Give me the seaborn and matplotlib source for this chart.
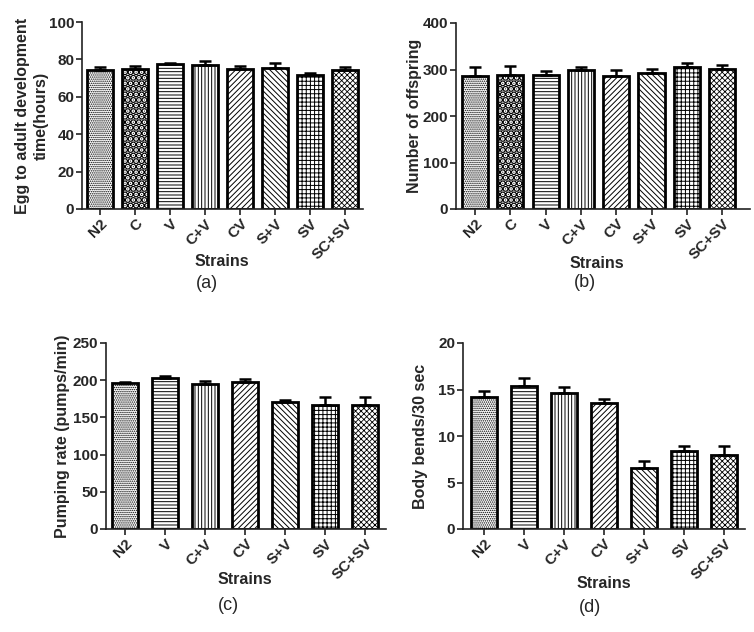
import matplotlib
matplotlib.use("Agg")
import matplotlib.pyplot as plt
import seaborn as sns
import numpy as np

# panel (a) / (b): eight strains
strains_ab = ["N2", "C", "V", "C+V", "CV", "S+V", "SV", "SC+SV"]
dev_time = [74.2, 74.7, 77.4, 77.2, 74.7, 75.4, 71.5, 74.2]
dev_time_err = [1.8, 1.8, 0.9, 2.2, 1.8, 2.7, 1.3, 1.8]
offspring = [285, 289, 289, 300, 287, 292, 305, 302]
offspring_err = [20, 18, 8, 5, 13, 9, 10, 8]

# panel (c) / (d): seven strains
strains_cd = ["N2", "V", "C+V", "CV", "S+V", "SV", "SC+SV"]
pumping = [196, 203, 195.5, 197.3, 171, 167, 167]
pumping_err = [2.2, 2.0, 3.2, 4.5, 3.0, 9.8, 10.0]
bends = [14.2, 15.4, 14.6, 13.5, 6.6, 8.4, 8.0]
bends_err = [0.6, 0.8, 0.7, 0.5, 0.7, 0.5, 0.9]

hatch_map = {"N2": "........", "C": "...", "V": "-----", "C+V": "|||||",
             "CV": "//////", "S+V": "\\\\\\\\\\\\", "SV": "++++", "SC+SV": "xxxxxx"}
hatch_lw = {"N2": 0.7, "C": 3.4, "V": 0.7, "C+V": 0.7, "CV": 0.7,
            "S+V": 0.7, "SV": 0.7, "SC+SV": 0.6}

sns.set_style("ticks")
plt.rcParams["font.family"] = ["Liberation Sans", "DejaVu Sans"]
plt.rcParams["hatch.linewidth"] = 0.7

W, H = 754, 632
fig = plt.figure(figsize=(W / 100, H / 100), dpi=100)


def px_axes(left, top, right, bottom):
    return fig.add_axes([left / W, 1 - bottom / H, (right - left) / W, (bottom - top) / H])


def draw_panel(ax, cats, vals, errs, width, xlim, ymax, ystep, ylabel, ylab_x):
    sns.barplot(x=cats, y=vals, ax=ax, color="white", edgecolor="black",
                linewidth=2, width=width, saturation=1, errorbar=None)
    for patch, cat in zip(ax.patches, cats):
        patch.set_edgecolor("black")
        if hasattr(patch, "set_hatch_linewidth"):
            patch.set_hatch_linewidth(hatch_lw[cat])
        patch.set_hatch(hatch_map[cat])
    n = len(cats)
    ax.errorbar(range(n), vals, yerr=[np.zeros(n), errs], fmt="none",
                ecolor="black", elinewidth=1.8, capsize=4.5, capthick=1.8, zorder=1)
    ax.set_xlim(*xlim)
    ax.set_ylim(0, ymax)
    ax.set_yticks(np.arange(0, ymax + 1, ystep))
    for s in ["top", "right"]:
        ax.spines[s].set_visible(False)
    for s in ["left", "bottom"]:
        ax.spines[s].set_linewidth(1.2)
        ax.spines[s].set_color("#222222")
    ax.tick_params(direction="out", length=4, width=1.2, color="#222222",
                   labelsize=11, pad=1.5)
    for lab in ax.get_yticklabels():
        lab.set_fontweight("bold")
    ax.set_xticks(range(n))
    ax.set_xticklabels(cats, rotation=45, ha="right", rotation_mode="anchor",
                       fontweight="bold", fontsize=11)
    ax.set_ylabel(ylabel, fontsize=11.5, fontweight="bold", linespacing=1.3)
    ax.yaxis.set_label_coords(ylab_x, 0.5)
    ax.set_xlabel("")


ax_a = px_axes(82, 22, 363, 209)
draw_panel(ax_a, strains_ab, dev_time, dev_time_err, 0.74, (-0.52, 7.51), 100, 20,
           "Egg to adult development\ntime(hours)", -0.12)
ax_b = px_axes(456, 23, 750, 209)
draw_panel(ax_b, strains_ab, offspring, offspring_err, 0.74, (-0.54, 7.79), 400, 100,
           "Number of offspring", -0.115)
ax_c = px_axes(106, 343, 386, 529)
draw_panel(ax_c, strains_cd, pumping, pumping_err, 0.65, (-0.48, 6.52), 250, 50,
           "Pumping rate (pumps/min)", -0.13)
ax_d = px_axes(463, 343, 745, 529)
draw_panel(ax_d, strains_cd, bends, bends_err, 0.65, (-0.525, 6.525), 20, 5,
           "Body bends/30 sec", -0.125)


def fig_text(x, y, s, **kw):
    fig.text(x / W, 1 - y / H, s, ha="center", va="center", **kw)


fig_text(222, 262, "Strains", fontsize=11.5, fontweight="bold")
fig_text(207, 284, "(a)", fontsize=13)
fig_text(597, 263, "Strains", fontsize=11.5, fontweight="bold")
fig_text(585, 283, "(b)", fontsize=13)
fig_text(245, 580, "Strains", fontsize=11.5, fontweight="bold")
fig_text(228, 605, "(c)", fontsize=13)
fig_text(604, 583, "Strains", fontsize=11.5, fontweight="bold")
fig_text(590, 607, "(d)", fontsize=13)

fig.savefig("out.png", dpi=100)
